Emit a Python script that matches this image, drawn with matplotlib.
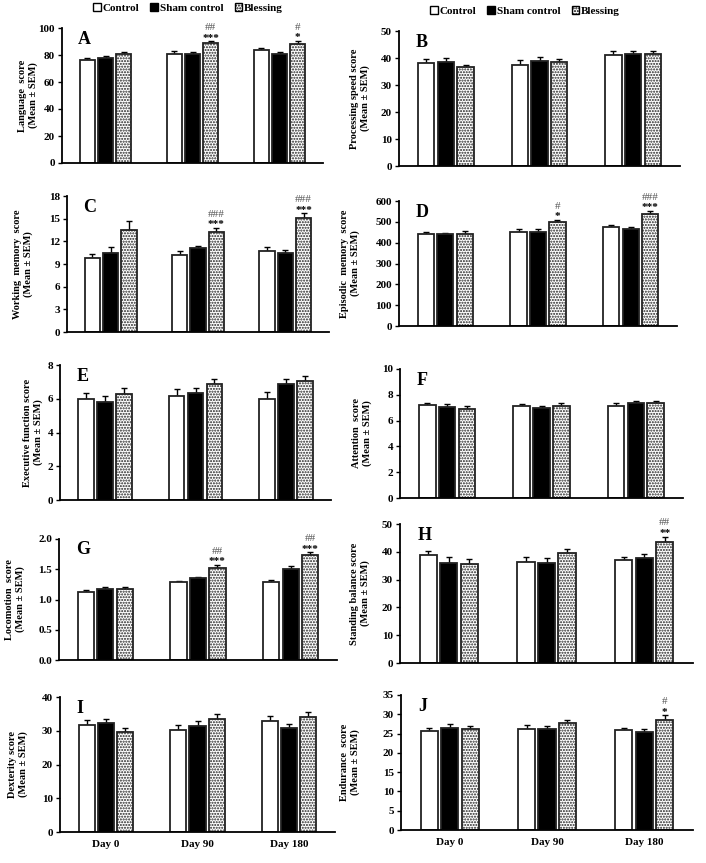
import numpy as np
import matplotlib
matplotlib.use('Agg')
import matplotlib.pyplot as plt
from matplotlib.patches import Patch

plt.rcParams['font.family'] = ['Liberation Serif', 'DejaVu Serif']
plt.rcParams['font.weight'] = 'bold'
plt.rcParams['hatch.linewidth'] = 1.0

days = ['Day 0', 'Day 90', 'Day 180']
groups = ['Control', 'Sham control', 'Blessing']

# rows = groups (Control, Sham control, Blessing), cols = days
language_mean = [[76.5, 81.0, 83.5], [78.0, 80.5, 80.5], [81.0, 89.0, 88.5]]
language_sem = [[1.5, 2.0, 2.0], [1.5, 1.5, 2.0], [1.0, 1.0, 2.0]]
language_stars = ['', '***', '*']
language_hash = ['', '##', '#']

speed_mean = [[38.0, 37.5, 41.0], [38.5, 39.0, 41.5], [36.5, 38.5, 41.5]]
speed_sem = [[1.5, 1.7, 1.5], [1.5, 1.5, 1.2], [1.0, 1.0, 1.0]]
speed_stars = ['', '', '']
speed_hash = ['', '', '']

working_mean = [[9.8, 10.2, 10.7], [10.4, 11.1, 10.5], [13.5, 13.2, 15.1]]
working_sem = [[0.5, 0.5, 0.5], [0.8, 0.3, 0.4], [1.2, 0.6, 0.6]]
working_stars = ['', '***', '***']
working_hash = ['', '###', '###']

episodic_mean = [[440, 453, 475], [443, 453, 465], [443, 500, 538]]
episodic_sem = [[10, 12, 10], [5, 12, 10], [12, 10, 14]]
episodic_stars = ['', '*', '***']
episodic_hash = ['', '#', '###']

executive_mean = [[6.0, 6.15, 6.0], [5.8, 6.35, 6.9], [6.3, 6.85, 7.05]]
executive_sem = [[0.35, 0.4, 0.4], [0.35, 0.3, 0.3], [0.35, 0.3, 0.3]]
executive_stars = ['', '', '']
executive_hash = ['', '', '']

attention_mean = [[7.2, 7.1, 7.15], [7.05, 7.0, 7.4], [6.9, 7.15, 7.4]]
attention_sem = [[0.2, 0.15, 0.2], [0.25, 0.15, 0.1], [0.2, 0.2, 0.15]]
attention_stars = ['', '', '']
attention_hash = ['', '', '']

locomotion_mean = [[1.13, 1.29, 1.29], [1.17, 1.35, 1.50], [1.18, 1.52, 1.73]]
locomotion_sem = [[0.02, 0.02, 0.03], [0.04, 0.03, 0.05], [0.03, 0.05, 0.05]]
locomotion_stars = ['', '***', '***']
locomotion_hash = ['', '##', '##']

balance_mean = [[39.0, 36.5, 37.2], [36.0, 35.8, 37.8], [35.5, 39.5, 43.7]]
balance_sem = [[1.2, 1.5, 1.0], [2.0, 1.8, 1.5], [2.0, 1.5, 1.8]]
balance_stars = ['', '', '**']
balance_hash = ['', '', '##']

dexterity_mean = [[31.7, 30.3, 33.0], [32.2, 31.5, 30.8], [29.6, 33.5, 34.2]]
dexterity_sem = [[1.5, 1.5, 1.5], [1.3, 1.5, 1.3], [1.3, 1.5, 1.3]]
dexterity_stars = ['', '', '']
dexterity_hash = ['', '', '']

endurance_mean = [[25.6, 26.3, 25.8], [26.5, 26.1, 25.4], [26.1, 27.8, 28.6]]
endurance_sem = [[0.8, 0.9, 0.6], [0.9, 0.9, 0.7], [0.9, 0.7, 1.1]]
endurance_stars = ['', '', '*']
endurance_hash = ['', '', '#']

# letter, means, sems, stars, hashes, ylabel, ymax, ystep, fmt
panels = [
    ('A', language_mean, language_sem, language_stars, language_hash,
     'Language  score\n(Mean ± SEM)', 100, 20, '%d'),
    ('B', speed_mean, speed_sem, speed_stars, speed_hash,
     'Processing speed score\n(Mean ± SEM)', 50, 10, '%d'),
    ('C', working_mean, working_sem, working_stars, working_hash,
     'Working  memory  score\n(Mean ± SEM)', 18, 3, '%d'),
    ('D', episodic_mean, episodic_sem, episodic_stars, episodic_hash,
     'Episodic  memory  score\n(Mean ± SEM)', 600, 100, '%d'),
    ('E', executive_mean, executive_sem, executive_stars, executive_hash,
     'Executive function score\n(Mean ± SEM)', 8, 2, '%d'),
    ('F', attention_mean, attention_sem, attention_stars, attention_hash,
     'Attention  score\n(Mean ± SEM)', 10, 2, '%d'),
    ('G', locomotion_mean, locomotion_sem, locomotion_stars, locomotion_hash,
     'Locomotion  score\n(Mean ± SEM)', 2.0, 0.5, '%.1f'),
    ('H', balance_mean, balance_sem, balance_stars, balance_hash,
     'Standing balance score\n(Mean ± SEM)', 50, 10, '%d'),
    ('I', dexterity_mean, dexterity_sem, dexterity_stars, dexterity_hash,
     'Dexterity score\n(Mean ± SEM)', 40, 10, '%d'),
    ('J', endurance_mean, endurance_sem, endurance_stars, endurance_hash,
     'Endurance  score\n(Mean ± SEM)', 35, 5, '%d'),
]

# axes boxes in pixels: x0, x1, ytop, ybottom, ylabel centre offset
boxes = [
    (62, 323, 28, 163, -34), (399, 680, 31, 166, -39),
    (67, 329, 196, 332, -44), (399, 677, 201, 326, -49),
    (60, 331, 365, 500, -27), (400, 683, 369, 498, -38),
    (59, 337, 539, 660, -44), (400, 693, 524, 663, -40),
    (60, 335, 697, 832, -42), (401, 693, 695, 830, -51),
]

W, H = 706, 863
fig = plt.figure(figsize=(W / 100, H / 100), dpi=100)

x = np.arange(len(days))
offsets = [-0.21, 0.0, 0.21]
bw = 0.175
faces = ['white', 'black', 'white']
hatches = [None, None, '......']

for (letter, means, sems, stars, hashes, ylab, ymax, ystep, fmt), (x0, x1, yt, yb, lab_dx) in zip(panels, boxes):
    ax = fig.add_axes([x0 / W, 1 - yb / H, (x1 - x0) / W, (yb - yt) / H])
    for g in range(3):
        ax.bar(x + offsets[g], means[g], bw, color=faces[g], edgecolor='#222222',
               linewidth=1.3, hatch=hatches[g], zorder=2)
        ax.errorbar(x + offsets[g], means[g], yerr=[np.zeros(3), sems[g]], fmt='none',
                    ecolor='black', elinewidth=1.0, capsize=2.5, capthick=1.0, zorder=1)
    for d in range(3):
        top = means[2][d] + sems[2][d]
        if stars[d]:
            ax.annotate(stars[d], (x[d] + offsets[2], top), xytext=(0, -1),
                        textcoords='offset points', ha='center', va='bottom',
                        fontsize=8, color='black')
        if hashes[d]:
            ax.annotate(hashes[d], (x[d] + offsets[2], top), xytext=(0, 6.5),
                        textcoords='offset points', ha='center', va='bottom',
                        fontsize=8, fontweight='normal', color='#555555')
    ax.set_xlim(-0.5, 2.5)
    ax.set_ylim(0, ymax)
    ax.set_yticks(np.arange(0, ymax + ystep / 2, ystep))
    ax.yaxis.set_major_formatter(matplotlib.ticker.FormatStrFormatter(fmt))
    ax.tick_params(axis='y', direction='out', length=3, width=1, labelsize=8, pad=2)
    ax.tick_params(axis='x', length=0, labelsize=8, pad=6)
    if letter in ('I', 'J'):
        ax.set_xticks(x)
        ax.set_xticklabels(days, fontweight='bold')
    else:
        ax.set_xticks([])
    for s in ('top', 'right'):
        ax.spines[s].set_visible(False)
    for s in ('left', 'bottom'):
        ax.spines[s].set_linewidth(1.3)
    ax.set_ylabel(ylab, fontsize=7.5, fontweight='bold', linespacing=1.15, va='center')
    ax.yaxis.set_label_coords(lab_dx / (x1 - x0), 0.5)
    ax.text(0.06, 0.98, letter, transform=ax.transAxes, fontsize=13,
            fontweight='bold', va='top', ha='left')

handles = [Patch(facecolor='white', edgecolor='black', linewidth=1.0),
           Patch(facecolor='black', edgecolor='black', linewidth=1.0),
           Patch(facecolor='white', edgecolor='black', hatch='......', linewidth=1.0)]
for cx, cy in [(188, 8), (525, 11)]:
    fig.legend(handles, groups, loc='center', bbox_to_anchor=(cx / W, 1 - cy / H),
               ncol=3, frameon=False, handlelength=0.7, handleheight=0.7,
               handletextpad=0.15, columnspacing=1.0, borderpad=0,
               prop={'weight': 'bold', 'size': 8})

fig.savefig('out.png', dpi=100)
